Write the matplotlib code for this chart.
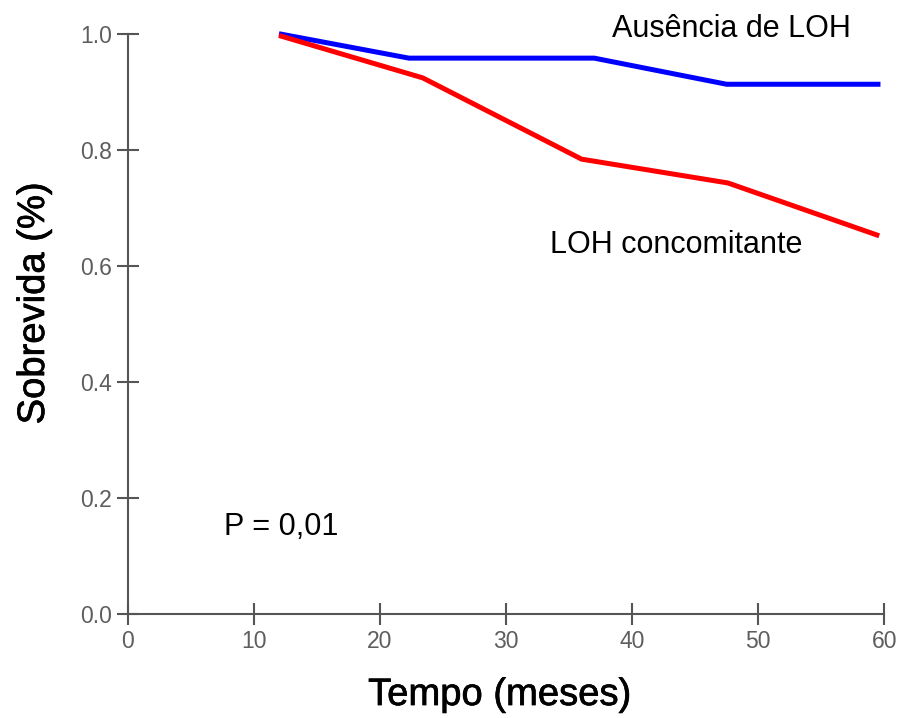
import matplotlib
matplotlib.use("Agg")
import matplotlib.pyplot as plt
import matplotlib.patheffects as pe

plt.rcParams["font.family"] = ["Liberation Sans", "DejaVu Sans"]

# data
tempo_sem_loh = [12.0, 22.3, 37.0, 47.5, 59.7]
sobrev_sem_loh = [1.0, 0.958, 0.958, 0.913, 0.913]

tempo_loh = [12.0, 23.4, 36.0, 47.6, 59.6]
sobrev_loh = [0.997, 0.924, 0.784, 0.743, 0.652]

xticks = [0, 10, 20, 30, 40, 50, 60]
yticks = [0.0, 0.2, 0.4, 0.6, 0.8, 1.0]

gray = "#555555"

fig = plt.figure(figsize=(9.01, 7.18), dpi=100)
ax = fig.add_axes([0.1417, 0.1444, 0.8397, 0.8086])

ax.plot(tempo_sem_loh, sobrev_sem_loh, color="#0000ff", lw=3.6, clip_on=False,
        solid_joinstyle="miter", solid_capstyle="butt")
ax.plot(tempo_loh, sobrev_loh, color="#ff0000", lw=3.6, clip_on=False,
        solid_joinstyle="miter", solid_capstyle="butt")

ax.set_xlim(0, 60)
ax.set_ylim(0, 1.0)
ax.set_xticks(xticks)
ax.set_yticks(yticks)
ax.set_xticklabels([str(t) for t in xticks])
ax.set_yticklabels([f"{t:.1f}" for t in yticks])

for s in ["top", "right"]:
    ax.spines[s].set_visible(False)
for s in ["left", "bottom"]:
    ax.spines[s].set_color(gray)
    ax.spines[s].set_linewidth(1.5)

ax.tick_params(direction="inout", length=16.5, width=1.5, color=gray,
               labelcolor="#5e5e5e", labelsize=16.5)
ax.tick_params(axis="x", pad=3)
ax.tick_params(axis="y", pad=3)
for lab in ax.get_xticklabels() + ax.get_yticklabels():
    lab.set_family(["Liberation Sans Narrow", "Liberation Sans", "DejaVu Sans"])

thick = [pe.withStroke(linewidth=0.5, foreground="black")]
ax.set_xlabel("Tempo (meses)", fontsize=27.5, path_effects=thick)
ax.set_ylabel("Sobrevida (%)", fontsize=27.5, path_effects=thick)
ax.xaxis.set_label_coords(0.492, -0.108)
ax.yaxis.set_label_coords(-0.100, 0.536)

ax.text(38.4, 0.994, "Ausência de LOH", fontsize=22, va="baseline")
ax.text(33.5, 0.622, "LOH concomitante", fontsize=22, va="baseline")
ax.text(7.6, 0.137, "P = 0,01", fontsize=22, va="baseline")

fig.savefig("out.png", dpi=100)
